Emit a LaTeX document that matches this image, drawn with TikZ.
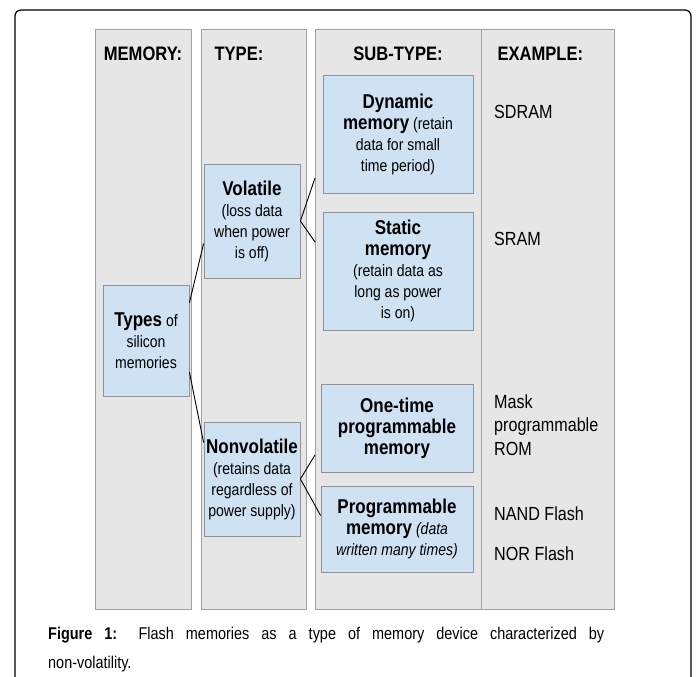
\documentclass[tikz,border=0pt]{standalone}
\usepackage{fontspec}
\setmainfont{Liberation Sans}[FakeStretch=0.85]
\definecolor{colgray}{HTML}{E6E6E6}
\definecolor{colline}{HTML}{A0A0A0}
\definecolor{boxblue}{HTML}{CFE2F3}
\definecolor{boxline}{HTML}{929292}
\newcommand{\ttl}[1]{{\fontsize{20}{21}\selectfont\bfseries #1}}
\tikzset{
    column/.style={fill=colgray,draw=colline,line width=0.8pt},
    memobox/.style={draw=boxline,fill=boxblue,line width=0.8pt,align=center,inner sep=0pt,
        font=\fontsize{16.5}{21}\selectfont},
    head/.style={font=\fontsize{19.5}{22}\selectfont\bfseries,anchor=base},
    example/.style={font=\fontsize{19}{23.5}\selectfont,anchor=base west,align=left,inner sep=0pt},
    link/.style={line width=0.9pt}
}
\begin{document}
\begin{tikzpicture}[x=1pt,y=-1pt]
                \useasboundingbox (0,0) rectangle (696,677);
                % frame
                \draw[line width=1.2pt,rounded corners=6pt] (15,677) -- (15,10) -- (691,10) -- (691,677);

                % columns
                \draw[column] (95,29) rectangle (191,609);
                \draw[column] (201,29) rectangle (306,609);
                \draw[column] (315,29) rectangle (614,609);
                \draw[colline,line width=0.8pt] (481,29) -- (481,609);

                \node[head] (hmem) at (143,61) {MEMORY:};
                \node[head,anchor=base west] (htype) at (211,61) {TYPE:};
                \node[head] (hsub) at (398,61) {SUB-TYPE:};
                \node[head,anchor=base west] (hex) at (494,61) {EXAMPLE:};

                % boxes
                \node[memobox,minimum width=86,minimum height=111] (types) at (146,340.5)
                    {\ttl{Types} of\\silicon\\memories};
                \node[memobox,minimum width=96,minimum height=114] (vol) at (252,221)
                    {\ttl{Volatile}\\(loss data\\when power\\is off)};
                \node[memobox,minimum width=96,minimum height=114] (non) at (252,479)
                    {\ttl{Nonvolatile}\\(retains data\\regardless of\\power supply)};
                \node[memobox,minimum width=150,minimum height=118] (dyn) at (398,134)
                    {\ttl{Dynamic}\\\ttl{memory} (retain\\data for small\\time period)};
                \node[memobox,minimum width=150,minimum height=118] (stat) at (398,271)
                    {\ttl{Static}\\\ttl{memory}\\(retain data as\\long as power\\is on)};
                \node[memobox,minimum width=152,minimum height=88] (otp) at (397,428)
                    {\ttl{One-time}\\\ttl{programmable}\\\ttl{memory}};
                \node[memobox,minimum width=152,minimum height=86] (prog) at (397,529)
                    {\ttl{Programmable}\\\ttl{memory} \textit{(data}\\\textit{written many times)}};

                % examples
                \node[example] (sdram) at (494,118) {SDRAM};
                \node[example] (sram) at (494,245) {SRAM};
                \node[example] (rom) at (494,455) {Mask\\programmable\\ROM};
                \node[example] (nand) at (494,520) {NAND Flash};
                \node[example] (nor) at (494,560) {NOR Flash};

                % links
                \coordinate (dynin) at (315,178);
                \coordinate (statin) at (315,242);
                \coordinate (otpin) at (315,455);
                \draw[link] (types.41) -- (vol.205);
                \draw[link] (types.-36) -- (non.143);
                \draw[link] (vol.east) -- (dynin);
                \draw[link] (vol.east) -- (statin);
                \draw[link] (non.east) -- (otpin);
                \draw[link] (non.east) -- (prog.170);

                % caption
                \node[anchor=base west,inner sep=0pt,font=\fontsize{17}{20}\selectfont] (cap1) at (48,639)
                    {\makebox[556pt][s]{\textbf{Figure 1:} Flash memories as a type of memory device characterized by}};
                \node[anchor=base west,inner sep=0pt,font=\fontsize{17}{20}\selectfont] (cap2) at (48,668)
                    {non-volatility.};
            \end{tikzpicture}
\end{document}
